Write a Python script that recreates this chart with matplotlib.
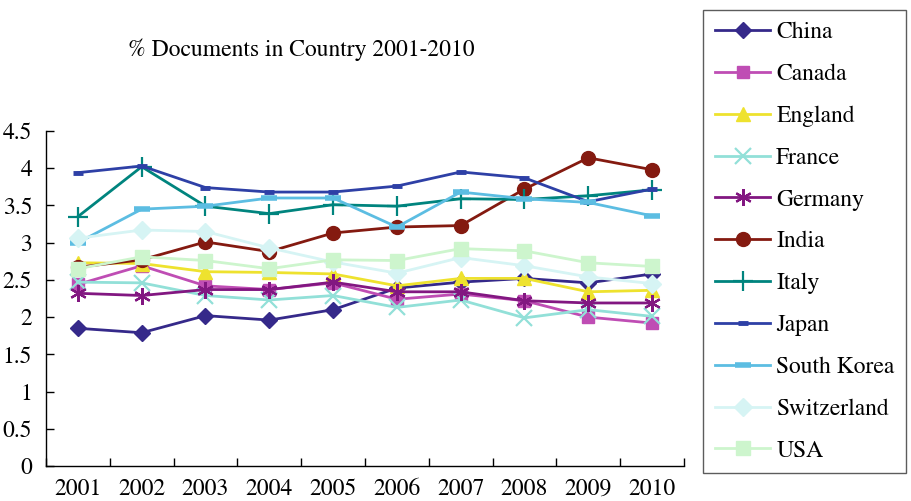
import matplotlib as mpl
mpl.rcParams['font.family'] = 'STIXGeneral'
mpl.rcParams['mathtext.fontset'] = 'stix'
import matplotlib.pyplot as plt
import numpy as np

years = ['2001', '2002', '2003', '2004', '2005', '2006', '2007', '2008', '2009', '2010']

china       = [1.85, 1.79, 2.02, 1.96, 2.10, 2.39, 2.47, 2.52, 2.46, 2.58]
canada      = [2.44, 2.69, 2.42, 2.37, 2.46, 2.24, 2.31, 2.22, 2.00, 1.92]
england     = [2.73, 2.72, 2.61, 2.60, 2.58, 2.42, 2.52, 2.52, 2.34, 2.36]
france      = [2.47, 2.46, 2.29, 2.23, 2.29, 2.13, 2.23, 1.99, 2.10, 2.01]
germany     = [2.32, 2.29, 2.37, 2.37, 2.47, 2.34, 2.34, 2.22, 2.19, 2.19]
india       = [2.67, 2.77, 3.01, 2.88, 3.13, 3.21, 3.23, 3.72, 4.14, 3.98]
italy       = [3.35, 4.02, 3.49, 3.39, 3.51, 3.49, 3.59, 3.58, 3.63, 3.71]
japan       = [3.94, 4.03, 3.74, 3.68, 3.68, 3.76, 3.95, 3.87, 3.55, 3.72]
south_korea = [3.00, 3.45, 3.49, 3.60, 3.60, 3.21, 3.68, 3.59, 3.54, 3.36]
switzerland = [3.06, 3.17, 3.15, 2.93, 2.74, 2.59, 2.80, 2.69, 2.54, 2.45]
usa         = [2.65, 2.81, 2.76, 2.65, 2.77, 2.76, 2.92, 2.89, 2.73, 2.68]

series = [
    ('China', china, '#35298a', 'D', dict(ms=8)),
    ('Canada', canada, '#bf4db4', 's', dict(ms=8)),
    ('England', england, '#eee22e', '^', dict(ms=10)),
    ('France', france, '#92e0d8', 'x', dict(ms=11, mew=1.6)),
    ('Germany', germany, '#821781', (6, 2, 0), dict(ms=12, mew=1.6)),
    ('India', india, '#841a10', 'o', dict(ms=10)),
    ('Italy', italy, '#00847e', '+', dict(ms=14, mew=1.6)),
    ('Japan', japan, '#2e40a6', '_', dict(ms=7, mew=3.5)),
    ('South Korea', south_korea, '#5cbde2', '_', dict(ms=11, mew=4)),
    ('Switzerland', switzerland, '#d6f4f4', 'D', dict(ms=9)),
    ('USA', usa, '#cdf5cd', 's', dict(ms=10)),
]

fig = plt.figure(figsize=(9.12, 5.01), dpi=100)
ax = fig.add_axes([46/912, 35/501, 638/912, 335/501])

x = np.arange(1, len(years) + 1)
for name, vals, col, mk, kw in series:
    ax.plot(x, vals, color=col, lw=2, marker=mk, mfc=col, mec=col, label=name, **kw)

ax.set_xlim(0.5, len(years) + 0.5)
ax.set_ylim(0, 4.5)
ax.set_xticks(x)
ax.set_xticklabels(years)
ax.set_xticks(np.arange(0.5, len(years) + 1), minor=True)
ax.tick_params(axis='x', which='major', length=0, pad=9, labelsize=17)
ax.tick_params(axis='x', which='minor', direction='in', length=6, width=1)
ax.set_yticks(np.arange(0, 4.6, 0.5))
ax.set_yticklabels(['0', '0.5', '1', '1.5', '2', '2.5', '3', '3.5', '4', '4.5'])
ax.tick_params(axis='y', direction='in', length=6, width=1, pad=10, labelsize=17)
ax.spines['top'].set_visible(False)
ax.spines['right'].set_visible(False)
for s in ('left', 'bottom'):
    ax.spines[s].set_linewidth(1)

fig.text(301/912, 1 - 50/501, '% Documents in Country 2001-2010', ha='center', va='center', fontsize=17)

leg = fig.legend(loc='upper left', bbox_to_anchor=(703/912, 1 - 10/501),
                 bbox_transform=fig.transFigure, fontsize=17, frameon=True,
                 fancybox=False, edgecolor='#333333', handlelength=2.35,
                 labelspacing=0.86, borderpad=0.5, handletextpad=0.25,
                 borderaxespad=0)
leg.get_frame().set_linewidth(1)

plt.savefig('out.png', dpi=100)
